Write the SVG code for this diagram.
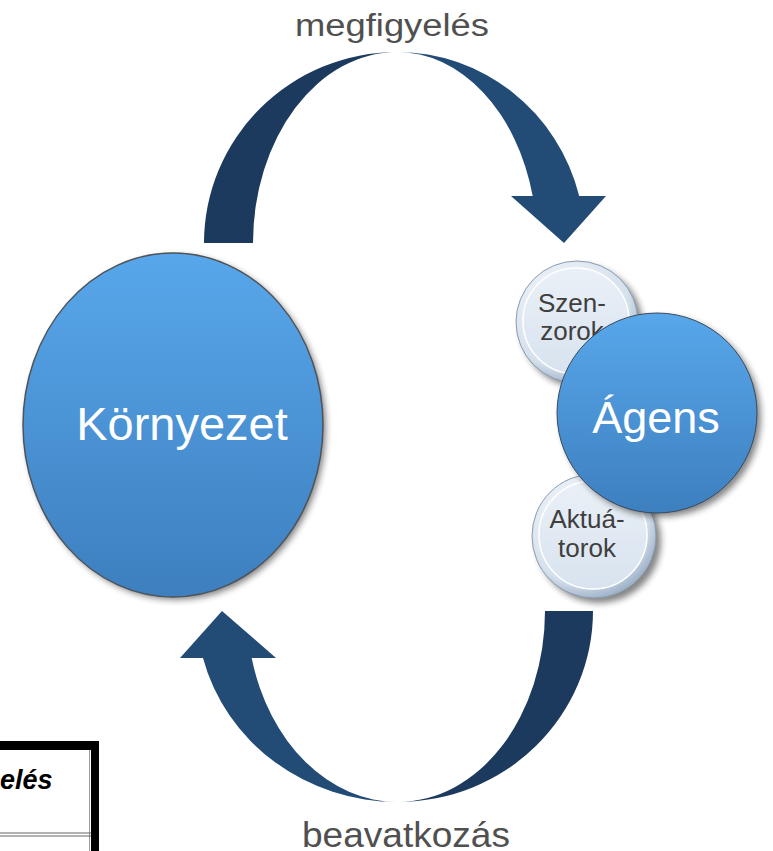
<svg xmlns="http://www.w3.org/2000/svg" width="773" height="851" viewBox="0 0 773 851">
  <defs>
    <linearGradient id="blueFill" x1="0" y1="0" x2="0" y2="1">
      <stop offset="0" stop-color="#58a7eb"/>
      <stop offset="1" stop-color="#3d7fbf"/>
    </linearGradient>
    <radialGradient id="glassRing" cx="0.4" cy="0.35" r="0.7">
      <stop offset="0" stop-color="#ffffff"/>
      <stop offset="0.75" stop-color="#d4e0ec"/>
      <stop offset="1" stop-color="#93a8c0"/>
    </radialGradient>
    <linearGradient id="glassFace" x1="0" y1="0" x2="0" y2="1">
      <stop offset="0" stop-color="#eaf0f7"/>
      <stop offset="1" stop-color="#d8e3ef"/>
    </linearGradient>
    <filter id="shadow" x="-20%" y="-20%" width="150%" height="150%">
      <feGaussianBlur stdDeviation="3"/>
    </filter>
    <style>
      .label { font-family: "Liberation Sans", Arial, sans-serif; fill: #505050; text-anchor: middle; }
      .big { font-family: "Liberation Sans", Arial, sans-serif; fill: #ffffff; text-anchor: middle; }
      .small { font-family: "Liberation Sans", Arial, sans-serif; fill: #3f3f3f; text-anchor: middle; font-size: 26px; }
      .dark { fill: #1c3a5e; }
      .mid { fill: #224b76; }
      .drop { fill: #202020; opacity: 0.55; filter: url(#shadow); }
    </style>
  </defs>

  <!-- curved arrows -->
  <g id="connectors">
    <g id="observe">
      <path class="dark" d="M204,243 A193,191 0 0 1 397,52 A144,191 0 0 0 253,243 Z"/>
      <path class="mid" d="M397,52 A188,191 0 0 1 579.2,196 L532.7,196 A140,191 0 0 0 397,52 Z"/>
      <polygon class="mid" points="511,196 606,196 564,243"/>
    </g>
    <g id="act">
      <path class="dark" d="M593,611 A195,191 0 0 1 398,802 A147,191 0 0 0 545,611 Z"/>
      <path class="mid" d="M398,802 A201.2,191 0 0 1 203,658 L251.7,658 A151,191 0 0 0 398,802 Z"/>
      <polygon class="mid" points="180,658 276,658 222,611"/>
    </g>
    <text class="label" x="392" y="36" font-size="31" textLength="194" lengthAdjust="spacingAndGlyphs">megfigyelés</text>
    <text class="label" x="406" y="847" font-size="35" textLength="208" lengthAdjust="spacingAndGlyphs">beavatkozás</text>
  </g>

  <!-- environment -->
  <g id="kornyezet">
    <ellipse class="drop" cx="176" cy="428" rx="150" ry="172"/>
    <ellipse cx="173" cy="425" rx="150" ry="172" fill="url(#blueFill)" stroke="#4f5358" stroke-width="1.5"/>
    <text class="big" x="182" y="440" font-size="47">Környezet</text>
  </g>

  <!-- sensors -->
  <g id="szenzorok">
    <circle class="drop" cx="582" cy="327" r="61"/>
    <circle cx="577" cy="322" r="61" fill="url(#glassRing)" stroke="#8a9cb2" stroke-width="1"/>
    <circle cx="576" cy="321" r="53" fill="url(#glassFace)" stroke="#ffffff" stroke-width="1.5"/>
    <text class="small" x="572" y="312">Szen-</text>
    <text class="small" x="572" y="340">zorok</text>
  </g>

  <!-- actuators -->
  <g id="aktuatorok">
    <circle class="drop" cx="599" cy="541" r="62"/>
    <circle cx="594" cy="536" r="62" fill="url(#glassRing)" stroke="#8a9cb2" stroke-width="1"/>
    <circle cx="593" cy="535" r="54" fill="url(#glassFace)" stroke="#ffffff" stroke-width="1.5"/>
    <text class="small" x="587" y="528">Aktuá-</text>
    <text class="small" x="587" y="557">torok</text>
  </g>

  <!-- agent -->
  <g id="agens">
    <circle class="drop" cx="661" cy="417" r="100"/>
    <circle cx="657" cy="413" r="100" fill="url(#blueFill)" stroke="#3a4a5c" stroke-width="1"/>
    <text class="big" x="656" y="433" font-size="45">Ágens</text>
  </g>

  <!-- framed box at the lower left -->
  <g id="box">
    <rect x="0" y="750" width="91" height="101" fill="#ffffff"/>
    <rect x="0" y="741" width="99" height="9" fill="#000000"/>
    <rect x="91" y="741" width="8" height="110" fill="#000000"/>
    <line x1="89.5" y1="750" x2="89.5" y2="851" stroke="#9a9a9a" stroke-width="1"/>
    <line x1="0" y1="833" x2="91" y2="833" stroke="#666666" stroke-width="1.2"/>
    <line x1="0" y1="836" x2="91" y2="836" stroke="#666666" stroke-width="1.2"/>
    <text x="0" y="789" font-family="'Liberation Sans', Arial, sans-serif" font-size="27" font-weight="bold" font-style="italic" fill="#000000">elés</text>
  </g>
</svg>
